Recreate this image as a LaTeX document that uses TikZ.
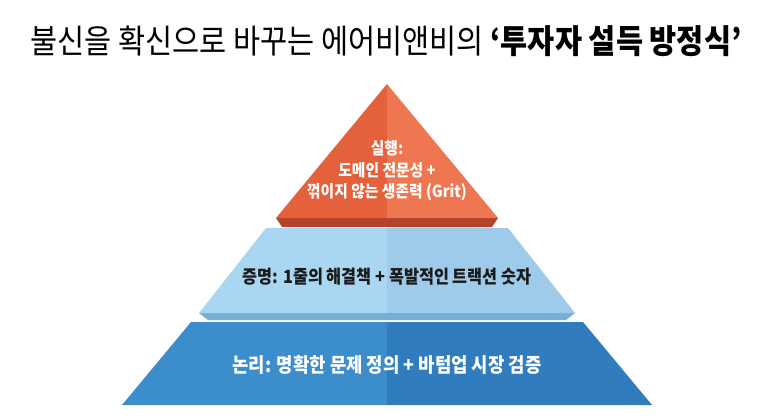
\documentclass[tikz,border=0pt]{standalone}
\usepackage{fontspec}
\setmainfont{Noto Sans CJK KR}[FakeStretch=0.89]
\usepackage{xcolor}
\usetikzlibrary{positioning}

\definecolor{redL}{HTML}{E5613B}
\definecolor{redR}{HTML}{EE7651}
\definecolor{redS}{HTML}{B4432C}
\definecolor{skyL}{HTML}{A9D6F1}
\definecolor{skyR}{HTML}{9DCBE9}
\definecolor{skyS}{HTML}{78AED3}
\definecolor{seaL}{HTML}{3B8DCC}
\definecolor{seaR}{HTML}{307CBC}
\definecolor{ink}{HTML}{1A1A1A}

\begin{document}
\begin{tikzpicture}[
      x=1pt, y=-1pt,
      lbl/.style={font=\bfseries\fontsize{16.6}{21.5}\selectfont, align=center, inner sep=0pt},
      ttl/.style={font=\fontsize{33.1}{36}\selectfont, inner sep=0pt}
    ]
    \useasboundingbox (0,0) rectangle (773,418);

    % Titolo
    \node[ttl] (title) at (386,41) {불신을 확신으로 바꾸는 에어비앤비의 {\bfseries ‘투자자 설득 방정식’}};

    % Livello basso
    \fill[seaL] (191,322) -- (387,322) -- (387,405) -- (122,405) -- cycle;
    \fill[seaR] (387,322) -- (583,322) -- (652,405) -- (387,405) -- cycle;

    % Livello medio
    \fill[skyS] (199,313) -- (575,313) -- (566,320) -- (208,320) -- cycle;
    \fill[skyL] (266,228) -- (387,228) -- (387,313) -- (199,313) -- cycle;
    \fill[skyR] (387,228) -- (508,228) -- (575,313) -- (387,313) -- cycle;

    % Vertice
    \fill[redS] (276,218) -- (498,218) -- (492,227) -- (282,227) -- cycle;
    \fill[redL] (387,84) -- (387,218) -- (276,218) -- cycle;
    \fill[redR] (387,84) -- (498,218) -- (387,218) -- cycle;

    % Testi
    \node[lbl, white] (act) at (387,171) {실행:\\도메인 전문성 +\\꺾이지 않는 생존력 (Grit)};
    \node[lbl, ink, font=\bfseries\fontsize{18.3}{22}\selectfont] (proof) at (387,277) {증명: 1줄의 해결책 + 폭발적인 트랙션 숫자};
    \node[lbl, white, font=\bfseries\fontsize{20}{24}\selectfont] (logic) at (387,365) {논리: 명확한 문제 정의 + 바텀업 시장 검증};
  \end{tikzpicture}
\end{document}
